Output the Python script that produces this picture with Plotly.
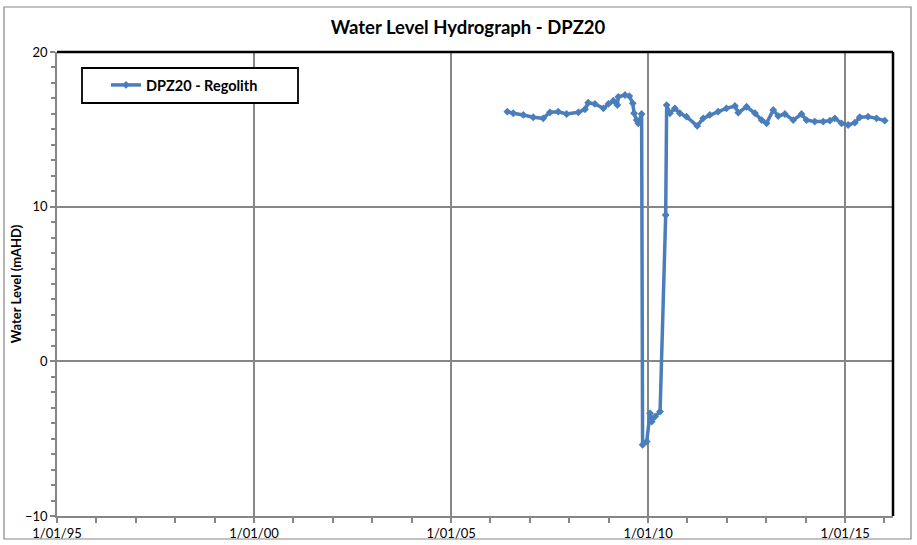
import plotly.graph_objects as go

# ---- data ----
dates = ["2006-06-06", "2006-07-31", "2006-11-01", "2007-02-01", "2007-05-05",
         "2007-07-06", "2007-09-21", "2007-12-08", "2008-03-26", "2008-05-26",
         "2008-06-25", "2008-08-26", "2008-11-13", "2008-12-29", "2009-02-13",
         "2009-03-22", "2009-03-31", "2009-06-01", "2009-07-11", "2009-08-12",
         "2009-08-24", "2009-09-17", "2009-10-02", "2009-11-02", "2009-11-11",
         "2009-12-19", "2010-01-19", "2010-02-03", "2010-03-07", "2010-04-22",
         "2010-06-13", "2010-06-22", "2010-07-22", "2010-09-06", "2010-10-22",
         "2010-12-23", "2011-04-01", "2011-05-26", "2011-07-27", "2011-10-12",
         "2011-12-28", "2012-03-16", "2012-04-16", "2012-07-02", "2012-09-18",
         "2012-11-18", "2013-01-03", "2013-03-06", "2013-04-21", "2013-06-22",
         "2013-09-07", "2013-11-23", "2014-01-08", "2014-03-26", "2014-06-12",
         "2014-08-13", "2014-09-28", "2014-11-29", "2015-01-29", "2015-04-01",
         "2015-05-17", "2015-08-02", "2015-10-19", "2016-01-04"]
levels = [16.14, 16.04, 15.93, 15.78, 15.71,
          16.10, 16.14, 15.99, 16.10, 16.30,
          16.72, 16.64, 16.36, 16.64, 16.85,
          16.57, 17.10, 17.22, 17.15, 16.68,
          16.04, 15.60, 15.39, 15.99, -5.40,
          -5.19, -3.36, -3.90, -3.57, -3.25,
          9.46, 16.57, 16.04, 16.36, 16.04,
          15.82, 15.22, 15.71, 15.93, 16.14,
          16.36, 16.51, 16.08, 16.46, 16.04,
          15.60, 15.39, 16.25, 15.86, 15.99,
          15.60, 15.99, 15.60, 15.50, 15.50,
          15.56, 15.71, 15.39, 15.28, 15.43,
          15.78, 15.82, 15.71, 15.56]

series_name = "DPZ20 - Regolith"
chart_title = "Water Level Hydrograph - DPZ20"
y_title = "Water Level (mAHD)"
x_tickvals = ["1995-01-01", "2000-01-01", "2005-01-01", "2010-01-01", "2015-01-01"]
x_ticktext = ["1/01/95", "1/01/00", "1/01/05", "1/01/10", "1/01/15"]
x_range = ["1995-01-01", "2016-03-20"]
y_range = [-10, 20]

FONT = "Lato, 'Open Sans', sans-serif"
BLUE = "#4A7EBB"
GRID = "#868686"

W, H = 917, 545
L, R, T, B = 57, 24, 52, 29
PW, PH = W - L - R, H - T - B


def px_x(x):
    return (x - L) / PW


def px_y(y):
    return (H - B - y) / PH


fig = go.Figure()
fig.add_trace(go.Scatter(
    x=dates, y=levels, name=series_name, mode="lines+markers",
    line=dict(color=BLUE, width=3.5),
    marker=dict(symbol="diamond", size=6, color=BLUE),
))

fig.update_layout(
    width=W, height=H,
    margin=dict(l=L, r=R, t=T, b=B),
    paper_bgcolor="white", plot_bgcolor="white",
    font=dict(family=FONT, size=13, color="black"),
    title=dict(text=chart_title, x=468 / W, xanchor="center",
               y=1 - 28 / H, yanchor="middle", xref="container", yref="container",
               font=dict(family=FONT, size=18.5, color="black", weight="bold")),
    showlegend=True,
    legend=dict(x=px_x(106), y=px_y(69), xanchor="left", yanchor="top",
                bgcolor="rgba(0,0,0,0)", borderwidth=0,
                font=dict(family=FONT, size=14.5, color="black", weight="bold"),
                itemwidth=30),
    xaxis=dict(type="date", range=x_range, tickvals=x_tickvals, ticktext=x_ticktext,
               automargin=False,
               showgrid=True, gridcolor=GRID, gridwidth=1.5,
               showline=True, linecolor=GRID, linewidth=1.5,
               ticks="outside", ticklen=5, tickcolor=GRID, tickwidth=1.5,
               minor=dict(dtick="M12", tick0="1995-01-01", ticks="outside",
                          ticklen=5, tickcolor=GRID, showgrid=False),
               zeroline=False, tickfont=dict(size=13)),
    yaxis=dict(range=y_range, dtick=10, tick0=0, automargin=False,
               showgrid=True, gridcolor=GRID, gridwidth=1.5,
               showline=True, linecolor=GRID, linewidth=1.5,
               ticks="outside", ticklen=5, tickcolor=GRID, tickwidth=1.5,
               minor=dict(dtick=1, ticks="outside", ticklen=4, tickcolor=GRID,
                          showgrid=False),
               zeroline=False, tickfont=dict(size=13),
               title=dict(text=y_title, standoff=0,
                          font=dict(family=FONT, size=13, color="black", weight="bold"))),
    shapes=[
        # plot-area border (top and right edges are black in the reference)
        dict(type="line", xref="paper", yref="paper", x0=0, x1=1, y0=1, y1=1,
             line=dict(color="black", width=2.5), layer="above"),
        dict(type="line", xref="paper", yref="paper", x0=1, x1=1, y0=0, y1=1,
             line=dict(color="black", width=2.5), layer="above"),
        # outer chart-area border
        dict(type="rect", xref="paper", yref="paper",
             x0=px_x(4), x1=px_x(911), y0=px_y(539), y1=px_y(7),
             line=dict(color=GRID, width=1.2), layer="below"),
        # legend frame
        dict(type="rect", xref="paper", yref="paper",
             x0=px_x(82), x1=px_x(298), y0=px_y(103), y1=px_y(68),
             line=dict(color="black", width=1.8), fillcolor="white", layer="above"),
    ],
)

fig.write_html("out.html", config={"displayModeBar": False},
               post_script="document.body.style.margin='0';")
